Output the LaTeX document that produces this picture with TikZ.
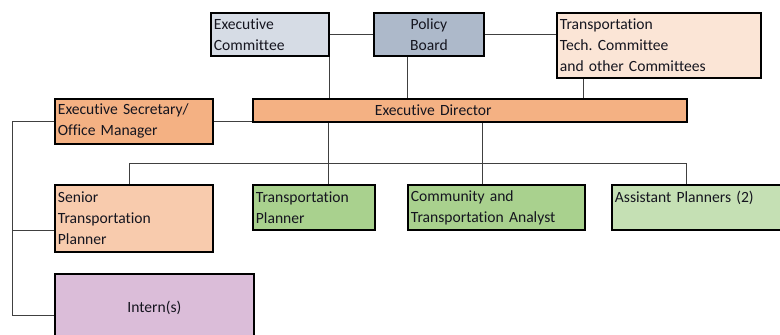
\documentclass[tikz,border=0pt]{standalone}
\usepackage{fontspec}
\setmainfont{Carlito}[Ligatures=NoCommon]
\usetikzlibrary{positioning}
\usetikzlibrary{calc}
\definecolor{ecblue}{HTML}{D6DCE5}
\definecolor{pbblue}{HTML}{ADB9CA}
\definecolor{ttcpeach}{HTML}{FBE5D6}
\definecolor{edorange}{HTML}{F4B183}
\definecolor{stpeach}{HTML}{F8CBAD}
\definecolor{tpgreen}{HTML}{A9D18E}
\definecolor{apgreen}{HTML}{C5E0B4}
\definecolor{inpurple}{HTML}{DBBDD9}
\definecolor{inktext}{HTML}{15151F}
\frenchspacing
\tikzstyle{post} = [rectangle, draw=black, line width=1.8pt, anchor=north west, inner sep=3pt,
align=left, text=inktext, font=\fontsize{15.6}{21}\selectfont]
\tikzstyle{link} = [draw, line width=1pt, color=black!75]

\begin{document}
\begin{tikzpicture}[x=1pt, y=-1pt]
	\useasboundingbox (0,0) rectangle (780,335);
	\clip (0,0) rectangle (780,335);
	%% Boxes
	\node [post, fill=ecblue, minimum width=118pt, minimum height=43pt, text width=112pt] (ec) at (210,12) {Executive\\Committee};
	\node [post, fill=pbblue, minimum width=110pt, minimum height=43pt, align=center] (pb) at (373,12) {Policy\\Board};
	\node [post, fill=ttcpeach, minimum width=204pt, minimum height=65pt, text width=198pt] (ttc) at (556,12) {Transportation\\Tech. Committee\\and other Committees};
	\node [post, fill=edorange, minimum width=434pt, minimum height=23pt, text width=428pt] (ed) at (252,98) {\hspace*{119pt}Executive Director};
	\node [post, fill=edorange, minimum width=158pt, minimum height=45pt, text width=152pt] (es) at (54,98) {Executive Secretary/\\Office Manager};
	\node [post, fill=stpeach, minimum width=158pt, minimum height=67pt, text width=152pt] (sp) at (54,184) {Senior\\Transportation\\Planner};
	\node [post, fill=tpgreen, minimum width=122pt, minimum height=45pt, text width=116pt] (tp) at (252,184) {Transportation\\Planner};
	\node [post, fill=tpgreen, minimum width=177pt, minimum height=45pt, text width=171pt] (cta) at (407,184) {Community and\\Transportation Analyst};
	\node [post, fill=apgreen, minimum width=185pt, minimum height=45pt, text width=179pt] (ap) at (611,184) {Assistant Planners (2)\\~};
	\node [post, fill=inpurple, minimum width=199pt, minimum height=68pt, align=center] (in) at (54,273) {Intern(s)};
	%% Drop points
	\coordinate (pbdrop) at ([xshift=-21pt]pb.south);
	\coordinate (ttcdrop) at ([xshift=27pt]ttc.south west);
	\coordinate (lbus) at ([xshift=-42pt]es.west);
	\coordinate (tpdrop) at ([xshift=76pt]tp.north west);
	\coordinate (ctadrop) at ([xshift=75pt]cta.north west);
	\coordinate (spdrop) at ([xshift=75pt]sp.north west);
	\coordinate (apdrop) at ([xshift=75pt]ap.north west);
	%% Lines
	\path [link] (ec.east) -- (pb.west);
	\path [link] (pb.east) -- (pb.east -| ttc.west);
	\path [link] (ec.south east) -- (ec.south east |- ed.north);
	\path [link] (pbdrop) -- (pbdrop |- ed.north);
	\path [link] (ttcdrop) -- (ttcdrop |- ed.north);
	\path [link] (es.east) -- (es.east -| ed.west);
	\path [link] (es.west) -- (lbus) |- ([yshift=-12pt]sp.west);
	\path [link] (lbus) |- ([yshift=-8pt]in.west);
	\path [link] (tpdrop |- ed.south) -- (tpdrop);
	\path [link] (ctadrop |- ed.south) -- (ctadrop);
	\path [link] (spdrop) |- ([yshift=21pt]apdrop) -- (apdrop);
\end{tikzpicture}
\end{document}
